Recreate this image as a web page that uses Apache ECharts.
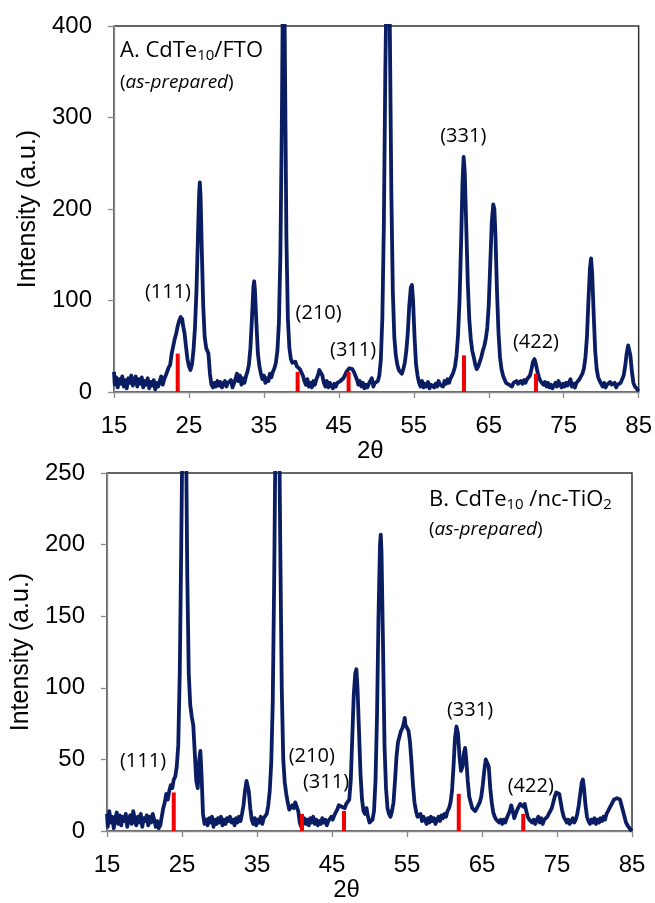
<!DOCTYPE html>
<html>
<head>
<meta charset="utf-8">
<script src="https://cdn.jsdelivr.net/npm/echarts@6/dist/echarts.min.js"></script>
<style>
html, body { margin: 0; padding: 0; background: #fff; }
#chart { width: 655px; height: 903px; }
</style>
</head>
<body>
<div id="chart"></div>
<script>
// XRD pattern A: CdTe10 / FTO  [2theta, intensity]
const xrdA = [
  [15.0,22],[15.1,8],[15.3,16],[15.5,5],[15.7,14],[15.9,9],[16.1,17],[16.3,6],[16.5,13],[16.7,4],
  [16.9,15],[17.1,10],[17.3,18],[17.5,7],[17.7,12],[17.9,17],[18.1,6],[18.3,14],[18.5,9],[18.7,16],
  [18.9,5],[19.1,12],[19.3,8],[19.5,15],[19.7,4],[19.9,11],[20.1,7],[20.3,13],[20.5,3],[20.7,10],
  [20.9,6],[21.1,12],[21.3,17],[21.5,8],[21.7,14],[21.9,18],[22.1,16],[22.3,27],[22.5,30],[22.7,42],
  [22.9,50],[23.1,58],[23.3,64],[23.5,72],[23.6,70],[23.7,78],[23.8,76],[23.9,82],[24.0,77],[24.1,80],
  [24.2,73],[24.4,65],[24.6,50],[24.8,36],[25.0,28],[25.2,24],[25.4,30],[25.6,45],[25.8,70],[26.0,110],
  [26.2,170],[26.35,215],[26.45,229],[26.55,215],[26.7,160],[26.9,95],[27.1,60],[27.3,48],[27.5,50],[27.6,42],
  [27.8,20],[28.0,8],[28.2,5],[28.4,10],[28.6,6],[28.8,12],[29.0,7],[29.2,11],[29.4,5],[29.6,9],
  [29.8,12],[30.0,6],[30.2,10],[30.4,8],[30.6,13],[30.8,5],[31.0,9],[31.2,14],[31.4,20],[31.6,12],
  [31.8,18],[32.0,8],[32.2,15],[32.4,10],[32.6,17],[32.8,22],[33.0,30],[33.2,48],[33.4,80],[33.6,115],
  [33.7,121],[33.8,112],[34.0,75],[34.2,42],[34.4,28],[34.6,20],[34.8,14],[35.0,18],[35.2,10],[35.4,15],
  [35.6,12],[35.8,20],[36.0,16],[36.2,22],[36.4,26],[36.6,32],[36.8,45],[37.0,75],[37.2,150],[37.4,300],
  [37.55,460],[37.7,470],[37.85,320],[38.0,170],[38.2,80],[38.4,48],[38.6,36],[38.8,32],[39.0,30],[39.2,33],
  [39.4,28],[39.6,30],[39.8,25],[40.0,26],[40.2,18],[40.4,12],[40.6,8],[40.8,14],[41.0,6],[41.2,10],
  [41.4,5],[41.6,12],[41.8,8],[42.0,14],[42.2,18],[42.4,24],[42.6,26],[42.8,18],[43.0,10],[43.2,6],
  [43.4,12],[43.6,5],[43.8,10],[44.0,8],[44.2,4],[44.4,9],[44.6,6],[44.8,10],[45.0,8],[45.2,12],
  [45.4,10],[45.6,15],[45.8,18],[46.0,22],[46.2,24],[46.4,26],[46.6,27],[46.8,25],[47.0,22],[47.2,18],
  [47.4,14],[47.6,8],[47.8,12],[48.0,6],[48.2,10],[48.4,4],[48.6,8],[48.8,5],[49.0,9],[49.2,12],
  [49.4,15],[49.6,6],[49.8,10],[50.0,8],[50.2,12],[50.4,18],[50.6,35],[50.8,80],[51.0,180],[51.2,350],
  [51.4,470],[51.6,480],[51.8,400],[52.0,220],[52.2,110],[52.4,60],[52.6,40],[52.8,30],[53.0,24],[53.2,22],
  [53.4,20],[53.6,25],[53.8,32],[54.0,45],[54.2,65],[54.4,95],[54.6,114],[54.75,117],[54.9,100],[55.1,60],
  [55.3,30],[55.5,18],[55.7,10],[55.9,6],[56.1,12],[56.3,5],[56.5,9],[56.7,6],[56.9,11],[57.1,4],
  [57.3,8],[57.5,10],[57.7,5],[57.9,9],[58.1,6],[58.3,12],[58.5,8],[58.7,10],[58.9,6],[59.1,12],
  [59.3,9],[59.5,14],[59.7,10],[59.9,15],[60.1,18],[60.3,22],[60.5,28],[60.7,40],[60.9,62],[61.1,100],
  [61.3,160],[61.5,230],[61.65,257],[61.8,240],[62.0,180],[62.2,120],[62.4,80],[62.6,58],[62.8,45],[63.0,38],
  [63.2,30],[63.4,25],[63.6,28],[63.8,33],[64.0,38],[64.2,45],[64.4,50],[64.6,58],[64.8,70],[65.0,95],
  [65.2,140],[65.4,185],[65.6,205],[65.75,200],[65.9,170],[66.1,110],[66.3,65],[66.5,38],[66.7,25],[66.9,18],
  [67.1,14],[67.3,10],[67.5,12],[67.7,8],[67.9,10],[68.1,6],[68.3,10],[68.5,8],[68.7,12],[68.9,9],
  [69.1,7],[69.3,12],[69.5,9],[69.7,13],[69.9,10],[70.1,14],[70.3,15],[70.5,18],[70.7,25],[70.9,33],
  [71.1,36],[71.3,30],[71.5,22],[71.7,16],[71.9,12],[72.1,14],[72.3,8],[72.5,11],[72.7,6],[72.9,10],
  [73.1,5],[73.3,8],[73.5,4],[73.7,7],[73.9,10],[74.1,6],[74.3,12],[74.5,8],[74.7,5],[74.9,9],
  [75.1,6],[75.3,10],[75.5,7],[75.7,8],[75.9,14],[76.1,6],[76.3,9],[76.5,5],[76.7,10],[76.9,12],
  [77.1,14],[77.3,16],[77.5,20],[77.7,26],[77.9,38],[78.1,60],[78.3,100],[78.5,135],[78.65,146],[78.8,130],
  [79.0,85],[79.2,45],[79.4,25],[79.6,16],[79.8,12],[80.0,9],[80.2,6],[80.4,10],[80.6,5],[80.8,8],
  [81.0,6],[81.2,11],[81.4,8],[81.6,6],[81.8,10],[82.0,5],[82.2,8],[82.4,6],[82.6,10],[82.8,12],
  [83.0,18],[83.2,28],[83.4,42],[83.6,51],[83.75,52],[83.9,40],[84.1,22],[84.3,10],[84.5,6],[84.7,4],
  [84.9,2],[85.0,1]
];

// XRD pattern B: CdTe10 / nc-TiO2
const xrdB = [
  [15.0,12],[15.1,3],[15.3,14],[15.5,6],[15.7,10],[15.9,2],[16.1,9],[16.3,13],[16.5,5],[16.7,11],
  [16.9,4],[17.1,10],[17.3,7],[17.5,12],[17.7,3],[17.9,9],[18.1,11],[18.3,5],[18.5,14],[18.7,8],
  [18.9,4],[19.1,10],[19.3,6],[19.5,12],[19.7,3],[19.9,9],[20.1,7],[20.3,11],[20.5,4],[20.7,10],
  [20.9,6],[21.1,12],[21.3,8],[21.5,3],[21.7,7],[21.9,2],[22.1,4],[22.3,10],[22.5,16],[22.7,20],
  [22.9,26],[23.1,22],[23.3,28],[23.5,32],[23.7,30],[23.9,36],[24.1,38],[24.3,45],[24.5,60],[24.7,110],
  [24.9,200],[25.1,300],[25.3,340],[25.5,300],[25.7,180],[25.9,110],[26.1,88],[26.3,80],[26.5,74],[26.7,55],
  [26.9,35],[27.1,30],[27.3,50],[27.45,56],[27.6,40],[27.8,12],[28.0,5],[28.2,8],[28.4,4],[28.6,9],
  [28.8,6],[29.0,10],[29.2,3],[29.4,8],[29.6,5],[29.8,9],[30.0,6],[30.2,10],[30.4,4],[30.6,8],
  [30.8,5],[31.0,9],[31.2,7],[31.4,10],[31.6,6],[31.8,8],[32.0,4],[32.2,9],[32.4,6],[32.6,10],
  [32.8,7],[33.0,12],[33.2,18],[33.4,28],[33.6,35],[33.75,36],[33.9,28],[34.1,16],[34.3,8],[34.5,5],
  [34.7,9],[34.9,4],[35.1,8],[35.3,6],[35.5,10],[35.7,5],[35.9,9],[36.1,8],[36.3,12],[36.5,18],
  [36.7,28],[36.9,48],[37.1,90],[37.3,180],[37.5,300],[37.7,360],[37.9,320],[38.1,200],[38.3,100],[38.5,50],
  [38.7,34],[38.9,26],[39.1,20],[39.3,15],[39.5,14],[39.7,18],[39.9,16],[40.1,20],[40.3,21],[40.5,14],
  [40.7,6],[40.9,3],[41.1,6],[41.3,9],[41.5,5],[41.7,8],[41.9,4],[42.1,9],[42.3,6],[42.5,10],
  [42.7,5],[42.9,8],[43.1,4],[43.3,7],[43.5,5],[43.7,9],[43.9,6],[44.1,8],[44.3,4],[44.5,7],
  [44.7,6],[44.9,10],[45.1,8],[45.3,11],[45.5,13],[45.7,15],[45.9,18],[46.1,19],[46.3,17],[46.5,18],
  [46.7,16],[46.9,19],[47.1,18],[47.3,22],[47.5,35],[47.7,65],[47.9,95],[48.1,110],[48.25,113],[48.4,100],
  [48.6,70],[48.8,40],[49.0,22],[49.2,14],[49.4,12],[49.6,16],[49.8,10],[50.0,6],[50.2,5],[50.4,8],
  [50.6,14],[50.8,35],[51.0,80],[51.2,150],[51.4,200],[51.5,207],[51.6,195],[51.8,130],[52.0,60],[52.2,30],
  [52.4,16],[52.6,12],[52.8,10],[53.0,14],[53.2,20],[53.4,35],[53.6,52],[53.8,62],[54.0,66],[54.2,70],
  [54.4,72],[54.6,76],[54.7,79],[54.8,74],[55.0,72],[55.2,70],[55.4,62],[55.6,48],[55.8,32],[56.0,20],
  [56.2,14],[56.4,10],[56.6,9],[56.8,12],[57.0,7],[57.2,10],[57.4,8],[57.6,5],[57.8,9],[58.0,6],
  [58.2,10],[58.4,7],[58.6,9],[58.8,5],[59.0,8],[59.2,10],[59.4,7],[59.6,11],[59.8,9],[60.0,12],
  [60.2,10],[60.4,14],[60.6,16],[60.8,20],[61.0,28],[61.2,45],[61.4,65],[61.6,73],[61.8,68],[62.0,52],
  [62.2,42],[62.4,45],[62.6,55],[62.75,58],[62.9,50],[63.1,35],[63.3,24],[63.5,20],[63.7,16],[63.9,15],
  [64.1,14],[64.3,15],[64.5,18],[64.7,20],[64.9,24],[65.1,32],[65.3,42],[65.5,50],[65.7,51],[65.9,45],
  [66.1,30],[66.3,20],[66.5,13],[66.7,10],[66.9,8],[67.1,9],[67.3,6],[67.5,8],[67.7,5],[67.9,8],
  [68.1,6],[68.3,9],[68.5,10],[68.7,14],[68.9,18],[69.1,14],[69.3,9],[69.5,12],[69.7,15],[69.9,17],
  [70.1,19],[70.3,18],[70.5,17],[70.7,19],[70.9,14],[71.1,10],[71.3,8],[71.5,9],[71.7,6],[71.9,8],
  [72.1,5],[72.3,8],[72.5,10],[72.7,6],[72.9,9],[73.1,5],[73.3,8],[73.5,7],[73.7,10],[73.9,12],
  [74.1,14],[74.3,16],[74.5,20],[74.7,24],[74.9,27],[75.1,28],[75.3,26],[75.5,20],[75.7,14],[75.9,10],
  [76.1,8],[76.3,6],[76.5,8],[76.7,5],[76.9,7],[77.1,9],[77.3,6],[77.5,8],[77.7,12],[77.9,18],
  [78.1,26],[78.3,34],[78.45,36],[78.6,30],[78.8,18],[79.0,10],[79.2,7],[79.4,5],[79.6,8],[79.8,6],
  [80.0,9],[80.2,5],[80.4,8],[80.6,6],[80.8,9],[81.0,7],[81.2,10],[81.4,8],[81.6,12],[81.8,14],
  [82.0,16],[82.2,18],[82.4,20],[82.6,22],[82.8,21],[83.0,23],[83.2,24],[83.4,22],[83.6,18],[83.8,14],
  [84.0,10],[84.2,6],[84.4,4],[84.6,3],[84.8,1],[85.0,0]
];

// CdTe reference lines (red sticks)
const refA = [[23.5, 42], [39.5, 22], [46.3, 22], [61.7, 40], [71.3, 20]];
const refB = [[23.9, 27], [41.0, 12], [46.6, 14], [61.9, 26], [70.5, 12]];

// hkl labels: [text, 2theta, intensity]
const hklA = [['(111)', 22.2, 109], ['(210)', 42.3, 86], ['(311)', 46.9, 46], ['(331)', 61.6, 279], ['(422)', 71.3, 54]];
const hklB = [['(111)', 19.8, 49], ['(210)', 42.3, 52], ['(311)', 44.2, 34], ['(331)', 63.4, 84], ['(422)', 71.5, 31]];

const xTicks = [15, 85, 10];
const yTicksA = [0, 400, 100];
const yTicksB = [0, 250, 50];

const NAVY = '#0a1d62';
const AXIS_GRAY = '#8a8a8a';
const LABEL_FONT = 'Liberation Sans, Arial, sans-serif';
const NOTE_FONT = 'Open Sans, sans-serif';

let chart = echarts.init(document.getElementById('chart'), null, { renderer: 'canvas' });

function xAxisOf(gridIndex, gap, nameStyle) {
    return {
        type: 'value',
        gridIndex: gridIndex,
        min: xTicks[0],
        max: xTicks[1],
        interval: xTicks[2],
        name: '2θ',
        nameLocation: 'middle',
        nameGap: gap,
        nameTextStyle: Object.assign({ fontSize: 24, color: '#000', fontFamily: LABEL_FONT }, nameStyle),
        splitLine: { show: false },
        axisLine: { lineStyle: { color: AXIS_GRAY, width: 1.3 } },
        axisTick: { show: true, length: 6, lineStyle: { color: AXIS_GRAY, width: 1.3 } },
        axisLabel: { fontSize: 24, color: '#000', fontFamily: LABEL_FONT, margin: 22 }
    };
}

function yAxisOf(gridIndex, ticks) {
    return {
        type: 'value',
        gridIndex: gridIndex,
        min: ticks[0],
        max: ticks[1],
        interval: ticks[2],
        name: 'Intensity (a.u.)',
        nameLocation: 'middle',
        nameGap: 72,
        nameTextStyle: { fontSize: 25, color: '#000', fontFamily: LABEL_FONT },
        splitLine: { show: false },
        axisLine: { show: true, lineStyle: { color: AXIS_GRAY, width: 1.3 } },
        axisTick: { show: true, length: 6, lineStyle: { color: AXIS_GRAY, width: 1.3 } },
        axisLabel: { fontSize: 24, color: '#000', fontFamily: LABEL_FONT, margin: 22 }
    };
}

function hklData(list) {
    return list.map(function (h) { return { name: h[0], value: [h[1], h[2]] }; });
}

const titleRich = {
    a: { fontSize: 22, fontFamily: NOTE_FONT, color: '#000', fontWeight: 'normal' },
    sub: { fontSize: 15, fontFamily: NOTE_FONT, color: '#000', fontWeight: 'normal', verticalAlign: 'bottom', padding: [10, 0, 0, 0] },
    p: { fontSize: 19, fontFamily: NOTE_FONT, color: '#000', fontWeight: 'normal' },
    i: { fontSize: 19, fontFamily: NOTE_FONT, color: '#000', fontWeight: 'normal', fontStyle: 'italic' }
};

const hklLabel = {
    show: true, position: 'inside', formatter: '{b}',
    fontSize: 20, color: '#000', fontFamily: NOTE_FONT,
    textBorderWidth: 0, textShadowBlur: 0
};

let option = {
    animation: false,
    backgroundColor: '#fff',
    title: [
        {
            text: '{a|A. CdTe}{sub|10}{a|/FTO}',
            subtext: '{p|(}{i|as-prepared}{p|)}',
            left: 120, top: 38, padding: 0, itemGap: 12,
            textStyle: { rich: titleRich, fontWeight: 'normal' },
            subtextStyle: { rich: titleRich }
        },
        {
            text: '{a|B. CdTe}{sub|10}{a| /nc-TiO}{sub|2}',
            subtext: '{p|(}{i|as-prepared}{p|)}',
            left: 429, top: 487, padding: 0, itemGap: 10,
            textStyle: { rich: titleRich, fontWeight: 'normal' },
            subtextStyle: { rich: titleRich }
        }
    ],
    grid: [
        { left: 114, top: 26, width: 525, height: 366, show: true, borderColor: '#333', borderWidth: 1.5 },
        { left: 107, top: 473, width: 525, height: 365, show: true, borderColor: '#333', borderWidth: 1.5 }
    ],
    xAxis: [
        xAxisOf(0, 40, { padding: [0, 12, 0, 0] }),
        xAxisOf(1, 41, { padding: [0, 46, 0, 0] })
    ],
    yAxis: [
        yAxisOf(0, yTicksA),
        yAxisOf(1, yTicksB)
    ],
    series: [
        {
            name: 'A', type: 'line', xAxisIndex: 0, yAxisIndex: 0,
            data: xrdA, showSymbol: false, z: 2,
            lineStyle: { color: NAVY, width: 3.8, join: 'round' }
        },
        {
            name: 'B', type: 'line', xAxisIndex: 1, yAxisIndex: 1,
            data: xrdB, showSymbol: false, z: 2,
            lineStyle: { color: NAVY, width: 3.8, join: 'round' }
        },
        {
            name: 'refA', type: 'bar', xAxisIndex: 0, yAxisIndex: 0,
            data: refA, barWidth: 4, z: 3,
            itemStyle: { color: '#f00000' }
        },
        {
            name: 'refB', type: 'bar', xAxisIndex: 1, yAxisIndex: 1,
            data: refB, barWidth: 4, z: 3,
            itemStyle: { color: '#f00000' }
        },
        {
            name: 'hklA', type: 'scatter', xAxisIndex: 0, yAxisIndex: 0,
            data: hklData(hklA), symbolSize: 0, z: 4, label: hklLabel,
            itemStyle: { color: '#000', opacity: 1 }
        },
        {
            name: 'hklB', type: 'scatter', xAxisIndex: 1, yAxisIndex: 1,
            data: hklData(hklB), symbolSize: 0, z: 4, label: hklLabel,
            itemStyle: { color: '#000', opacity: 1 }
        }
    ]
};

chart.setOption(option);
</script>
</body>
</html>
